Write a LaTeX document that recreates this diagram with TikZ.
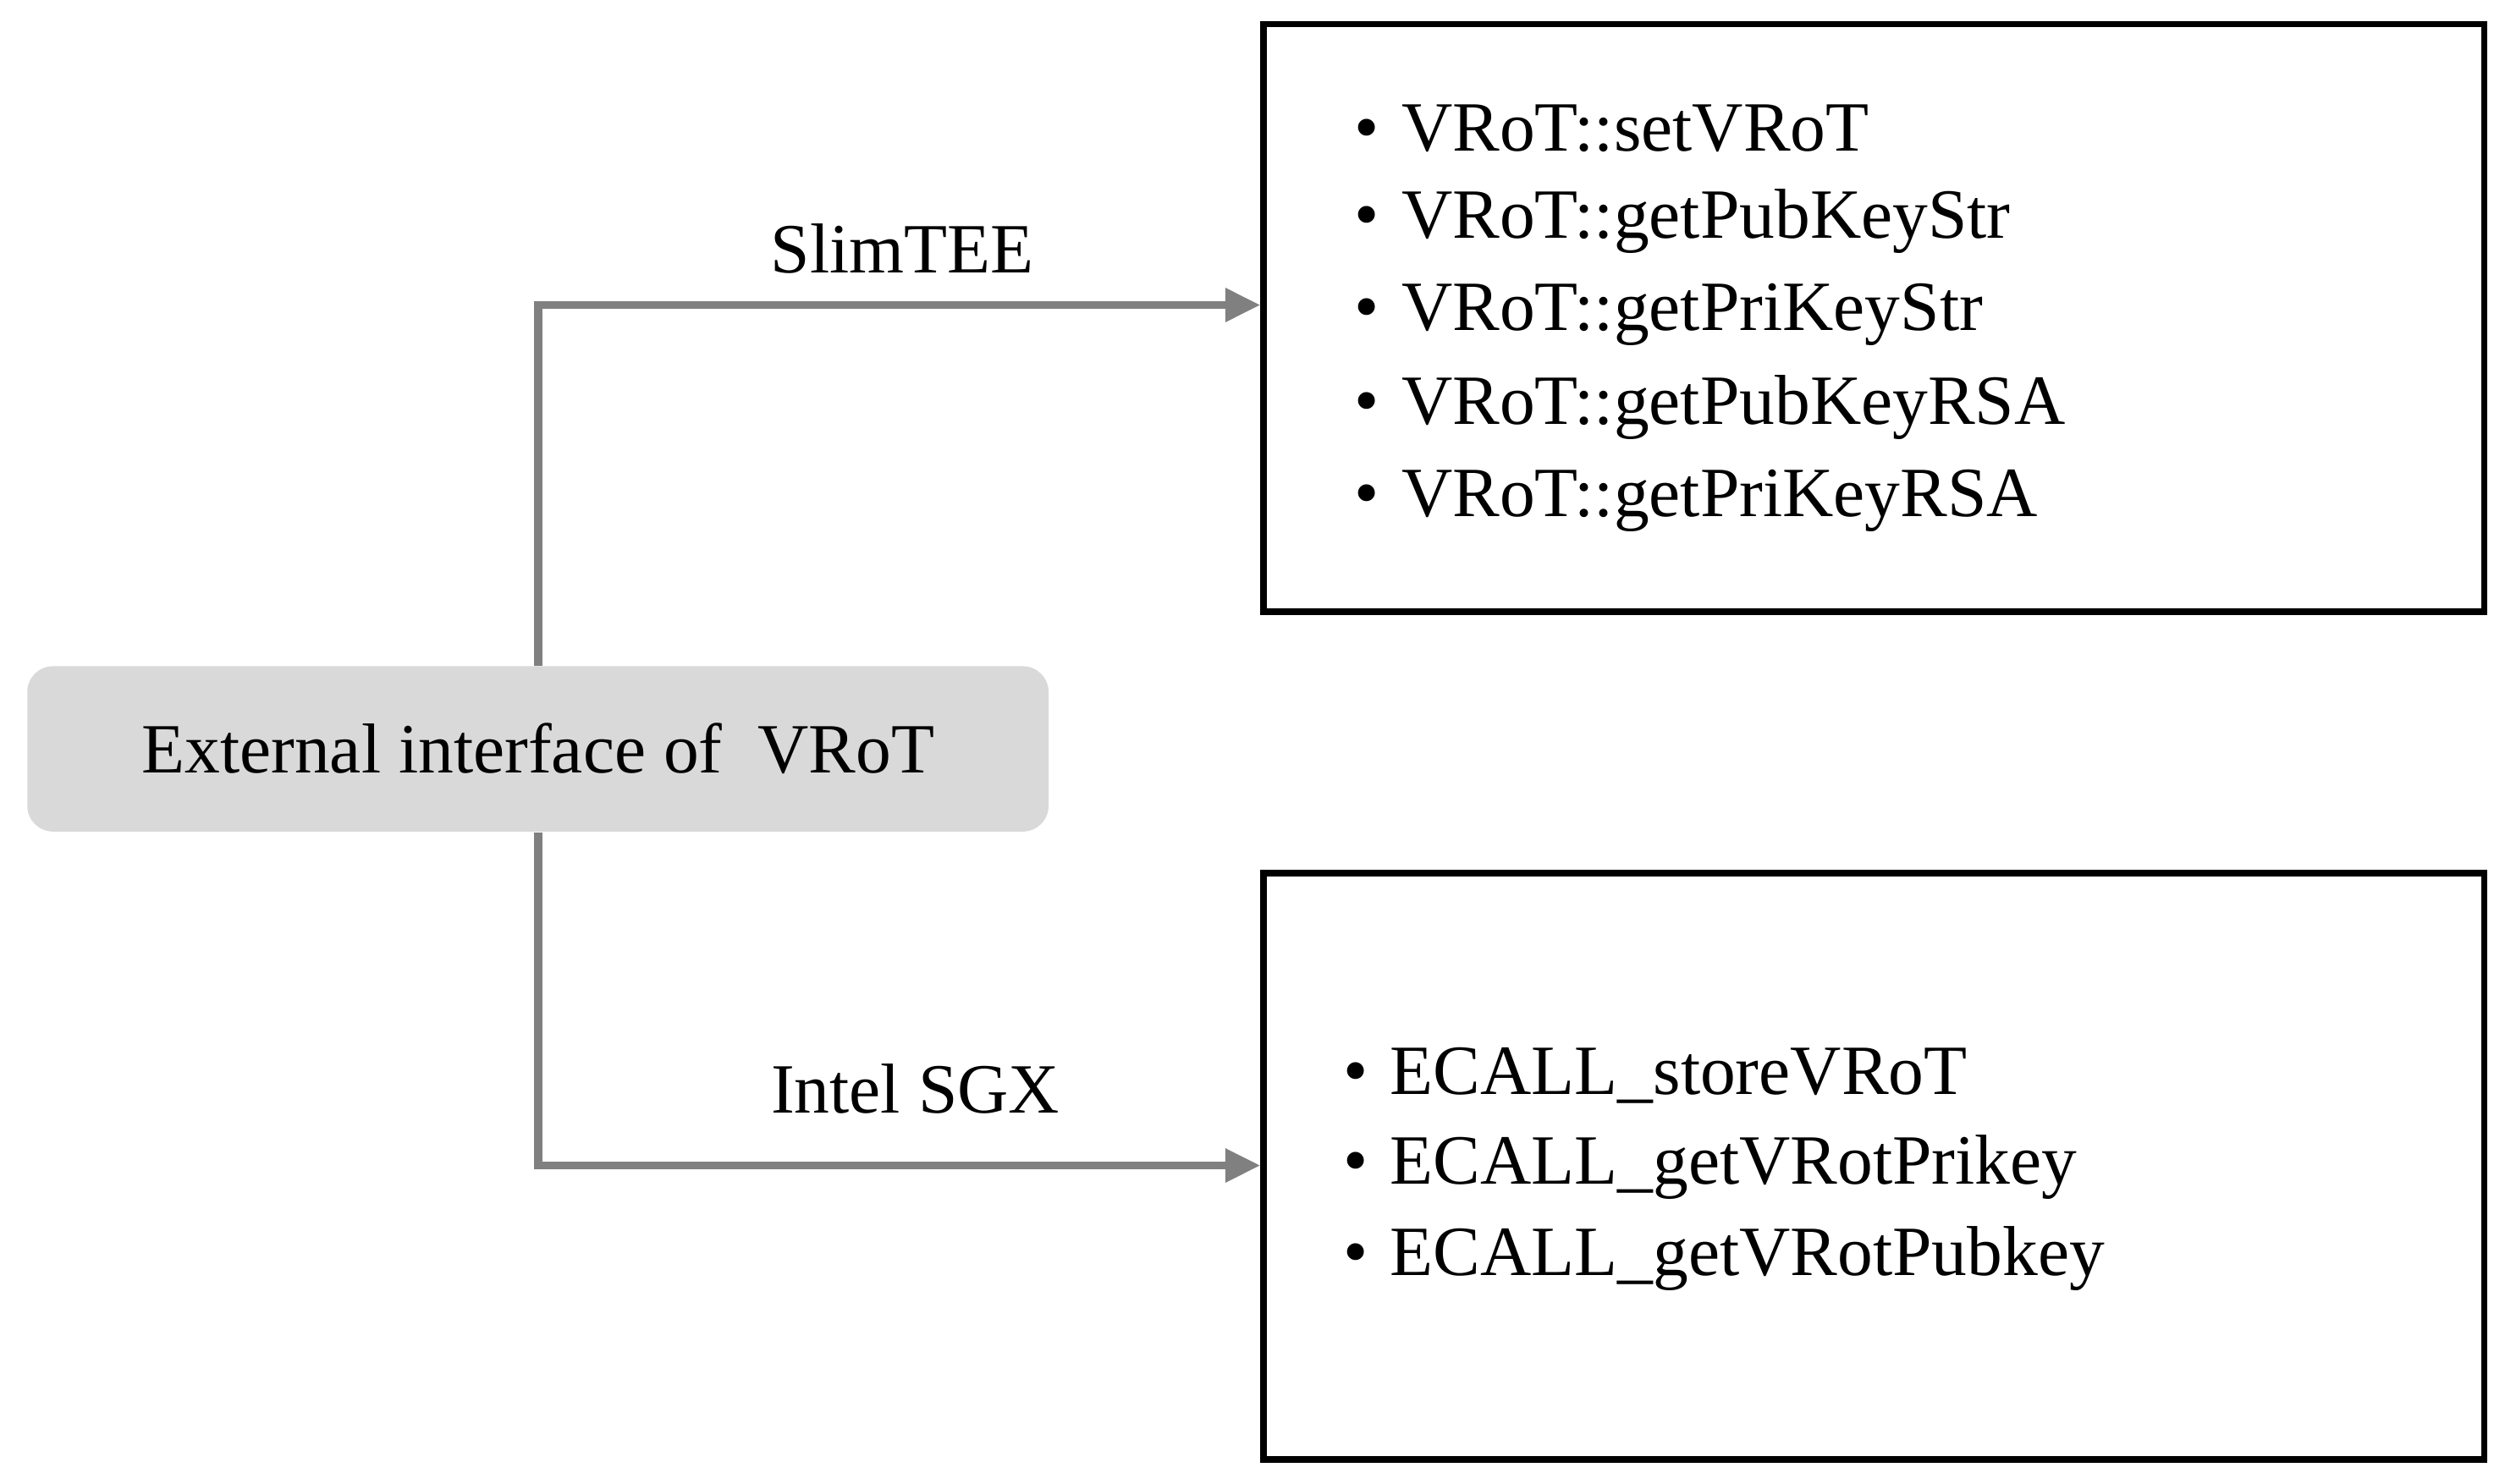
\documentclass[tikz,border=0pt]{standalone}
\usepackage{fontspec}
\setmainfont{Liberation Serif}
\usetikzlibrary{arrows.meta}
\begin{document}
\begin{tikzpicture}[x=0.5pt,y=-0.5pt,
  box/.style={draw=black,line width=2pt,inner sep=0pt},
  conn/.style={draw=gray!95!black,color={rgb,255:red,128;green,128;blue,128},line width=2.6pt,-{Triangle[length=11pt,width=10pt]}},
  item/.style={anchor=west,inner sep=0pt,font=\fontsize{22}{26}\selectfont},
  lbl/.style={inner sep=0pt,font=\fontsize{22}{26}\selectfont}]
\useasboundingbox (0,0) rectangle (1560,924);
\node[box,minimum width=380pt,minimum height=183pt,anchor=north west] (top) at (785,13) {};
\node[box,minimum width=380pt,minimum height=182.5pt,anchor=north west] (bot) at (785,542) {};
\node[fill={rgb,255:red,217;green,217;blue,217},rounded corners=8pt,minimum width=318pt,minimum height=51.5pt,inner sep=0pt,font=\fontsize{22}{26}\selectfont] (src) at (335,466.5) {External interface of~ VRoT};
\coordinate (t) at (335,190);
\coordinate (b) at (335,726);
\draw[conn] (src.north -| t) -- (t) -- (top.west |- t);
\draw[conn] (src.south -| b) -- (b) -- (bot.west |- b);
\node[lbl] (l1) at (562,155) {SlimTEE};
\node[lbl] (l2) at (570,678) {Intel SGX};
\foreach \t [count=\i] in {VRoT::setVRoT,VRoT::getPubKeyStr,VRoT::getPriKeyStr,VRoT::getPubKeyRSA,VRoT::getPriKeyRSA}{
  \node[item] (a\i) at (843,22+58*\i) {\textbullet\hspace{7pt}\t};}
\foreach \t [count=\i] in {ECALL\_storeVRoT,ECALL\_getVRotPrikey,ECALL\_getVRotPubkey}{
  \node[item] (b\i) at (836,613+57*\i) {\textbullet\hspace{7pt}\t};}
\end{tikzpicture}
\end{document}
